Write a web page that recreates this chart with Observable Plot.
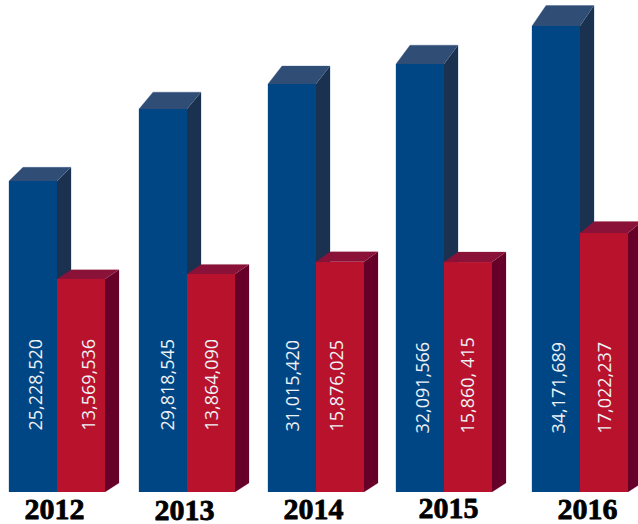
<!DOCTYPE html>
<html>
<head>
<meta charset="utf-8">
<style>
  html, body { margin: 0; padding: 0; background: #fff; }
  svg { display: block; }
</style>
<script src="https://cdn.jsdelivr.net/npm/d3@7"></script>
<script src="https://cdn.jsdelivr.net/npm/@observablehq/plot@0.6"></script>
</head>
<body>
<script>
const years = [2012, 2013, 2014, 2015, 2016];
const blueLabels = ["25,228,520", "29,818,545", "31,015,420", "32,091,566", "34,171,689"];
const redLabels = ["13,569,536", "13,864,090", "15,876,025", "15,860, 415", "17,022,237"];

// Column spacing along the year axis is slightly uneven.
const yearPositions = [9, 139, 268, 396, 532];
// The column heights are not proportional to the figures: a piecewise scale carries them.
const scaleKnots = [0, 13569536, 13864090, 15868000, 17022237, 25228520, 29818545, 31015420, 32091566, 34171689];
const scaleHeights = [0, 213, 218, 230, 259, 311, 383, 408, 428, 466];
const baseline = 492;

const barWidth = 48;
const sideDepth = 14;
const perspective = 0.044; // vertical rise of the 3D faces per pixel of column height

const yearLabelShifts = [45, 45, 45, 52, 55];
const yearLabelRises = [6, 5, 6, 7, 6];
const blueLabelShifts = [32, 34, 30, 32, 32];
const redLabelShifts = [85, 78, 74, 77, 78];
const valueLabelRises = [94, 94, 93, 91, 91];

const toNumber = (label) => +label.replace(/\D/g, "");
const rows = (labels) => years.map((year, i) => ({year, label: labels[i], value: toNumber(labels[i])}));

// Column with a side and a top face computed from its own scaled height.
function column(data, left, palette) {
  return Plot.rect(data, {
    x1: "year",
    x2: "year",
    y1: () => 0,
    y2: "value",
    insetLeft: left,
    insetRight: -(left + barWidth),
    fill: palette.front,
    render(index, scales, values, dimensions, context, next) {
      const g = next(index, scales, values, dimensions, context);
      const first = g.firstChild;
      const add = (tag, points, attrs) => {
        const p = document.createElementNS("http://www.w3.org/2000/svg", tag);
        p.setAttribute("points", points.map((q) => q.join(",")).join(" "));
        for (const [k, v] of Object.entries(attrs)) p.setAttribute(k, v);
        g.insertBefore(p, first);
      };
      for (const i of index) {
        const x0 = values.x1[i] + left;
        const x1 = x0 + barWidth;
        const top = values.y2[i];
        const bottom = values.y1[i];
        const rise = (bottom - top) * perspective;
        const rim = [[x0 + sideDepth, top - rise], [x1 + sideDepth, top - rise],
                     [x1 + sideDepth, bottom - palette.floorRise], [x1, bottom]];
        // pale rim around the outer silhouette
        if (palette.rimLeft) rim.unshift([x0, bottom], [x0, top]);
        add("polyline", rim, {fill: "none", stroke: palette.rim, "stroke-width": 1});
        add("polygon", [[x1, top], [x1 + sideDepth, top - rise], [x1 + sideDepth, bottom - palette.floorRise], [x1, bottom]],
            {fill: palette.side});
        add("polygon", [[x0, top], [x0 + sideDepth, top - rise], [x1 + sideDepth, top - rise], [x1, top]],
            {fill: palette.top});
      }
      return g;
    }
  });
}

const bluePalette = {front: "#004684", side: "#1b3150", top: "#304d75", rim: "#b9c9dc", rimLeft: true, floorRise: 14};
const redPalette = {front: "#b8122d", side: "#660028", top: "#8a1239", rim: "#e8d3da", rimLeft: false, floorRise: 9};

// One rotated figure per column, each nudged on its own.
const valueLabels = (data, shifts) => data.map((d, i) => Plot.text([d], {
  x: "year",
  text: "label",
  frameAnchor: "bottom",
  rotate: -90,
  textAnchor: "start",
  dx: shifts[i],
  dy: -valueLabelRises[i],
  fill: "#eef2f6",
  fontSize: 18,
  fontFamily: "'Open Sans', sans-serif"
}));

const chart = Plot.plot({
  width: 638,
  height: 524,
  margin: 0,
  style: {background: "#fff", overflow: "visible"},
  x: {type: "linear", domain: years, range: yearPositions, axis: null},
  y: {type: "linear", domain: scaleKnots, range: scaleHeights.map((h) => baseline - h), axis: null},
  marks: [
    column(rows(blueLabels), 0, bluePalette),
    column(rows(redLabels), barWidth, redPalette),
    ...valueLabels(rows(blueLabels), blueLabelShifts),
    ...valueLabels(rows(redLabels), redLabelShifts),
    ...years.map((year, i) => Plot.text([year], {
      x: (d) => d,
      text: (d) => String(d),
      frameAnchor: "bottom",
      dx: yearLabelShifts[i],
      dy: -yearLabelRises[i],
      fill: "#000",
      stroke: "#000",
      strokeWidth: 0.8,
      fontSize: 30,
      fontWeight: "bold",
      fontFamily: "'Liberation Serif', serif"
    }))
  ]
});
document.body.appendChild(chart);
</script>
</body>
</html>
